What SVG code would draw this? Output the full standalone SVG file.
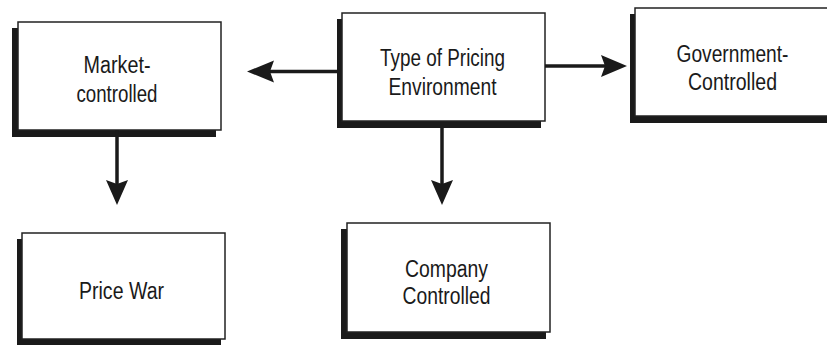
<svg xmlns="http://www.w3.org/2000/svg" width="827" height="345" viewBox="0 0 827 345">
<style>
.sh{fill:#1a1a1a}
.bx{fill:#fff;stroke:#222;stroke-width:1.5}
.t{font-family:"Liberation Sans",Arial,sans-serif;font-size:23px;fill:#1a1a1a;text-anchor:middle}
.c{stroke:#1a1a1a;stroke-width:3.5;fill:none}
.h{fill:#1a1a1a}
</style>
<rect width="827" height="345" fill="#fff"/>
<g id="market">
<rect class="sh" x="12" y="28" width="204" height="109"/>
<rect class="bx" x="18" y="22" width="203" height="108"/>
<text class="t" x="117" y="73" textLength="67" lengthAdjust="spacingAndGlyphs">Market-</text>
<text class="t" x="117" y="102" textLength="81" lengthAdjust="spacingAndGlyphs">controlled</text>
</g>
<g id="type">
<rect class="sh" x="337" y="19" width="204" height="109"/>
<rect class="bx" x="342" y="13" width="203" height="108"/>
<text class="t" x="442.5" y="66" textLength="125" lengthAdjust="spacingAndGlyphs">Type of Pricing</text>
<text class="t" x="442.5" y="95" textLength="108" lengthAdjust="spacingAndGlyphs">Environment</text>
</g>
<g id="government">
<rect class="sh" x="630" y="14" width="204" height="109"/>
<rect class="bx" x="635" y="8" width="203" height="108"/>
<text class="t" x="732.5" y="62" textLength="112" lengthAdjust="spacingAndGlyphs">Government-</text>
<text class="t" x="732.5" y="90" textLength="89" lengthAdjust="spacingAndGlyphs">Controlled</text>
</g>
<g id="pricewar">
<rect class="sh" x="17" y="239" width="204" height="109"/>
<rect class="bx" x="22" y="233" width="203" height="106"/>
<text class="t" x="121.5" y="299" textLength="85" lengthAdjust="spacingAndGlyphs">Price War</text>
</g>
<g id="company">
<rect class="sh" x="341" y="229" width="205" height="110"/>
<rect class="bx" x="347" y="223" width="203" height="109"/>
<text class="t" x="446.5" y="276.5" textLength="83" lengthAdjust="spacingAndGlyphs">Company</text>
<text class="t" x="446.5" y="303.5" textLength="88" lengthAdjust="spacingAndGlyphs">Controlled</text>
</g>
<g id="connectors">
<line class="c" x1="337" y1="71.5" x2="268" y2="71.5"/>
<polygon class="h" points="247,71.5 274,60.5 270,71.5 274,82.5"/>
<line class="c" x1="545" y1="66" x2="606" y2="66"/>
<polygon class="h" points="627,66 601,55 605,66 601,77"/>
<line class="c" x1="117" y1="130" x2="117" y2="186"/>
<polygon class="h" points="117,205 106,180 117,184 128,180"/>
<line class="c" x1="442" y1="128" x2="442" y2="186"/>
<polygon class="h" points="442,205 431,180 442,184 453,180"/>
</g>
</svg>
